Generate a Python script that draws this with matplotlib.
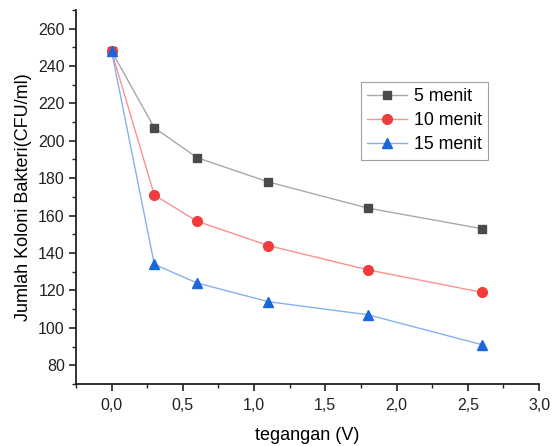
import numpy as np
import matplotlib
matplotlib.use("Agg")
import matplotlib.pyplot as plt
from matplotlib.ticker import MultipleLocator, FuncFormatter

# data
tegangan = [0.0, 0.3, 0.6, 1.1, 1.8, 2.6]
menit_5 = [248, 207, 191, 178, 164, 153]
menit_10 = [248, 171, 157, 144, 131, 119]
menit_15 = [248, 134, 124, 114, 107, 91]
labels = ["5 menit", "10 menit", "15 menit"]

plt.rcParams.update({'font.family': 'Liberation Sans', 'font.size': 11})
fig = plt.figure(figsize=(5.54, 4.46), dpi=100)
ax = fig.add_axes([0.137, 0.139, 0.836, 0.839])

ax.plot(tegangan, menit_5, color='#a8a8a8', lw=1.0, marker='s', ms=6,
        mfc='#4a4a4a', mec='#4a4a4a', label=labels[0])
ax.plot(tegangan, menit_10, color='#ff9090', lw=1.0, marker='o', ms=7,
        mfc='#f23b3b', mec='#f23b3b', label=labels[1])
ax.plot(tegangan, menit_15, color='#86b0ee', lw=1.0, marker='^', ms=7,
        mfc='#1a66db', mec='#1a66db', label=labels[2])

ax.set_xlim(-0.25, 3.0)
ax.set_ylim(70, 270)
ax.xaxis.set_major_locator(MultipleLocator(0.5))
ax.xaxis.set_minor_locator(MultipleLocator(0.25))
ax.yaxis.set_major_locator(MultipleLocator(20))
ax.yaxis.set_minor_locator(MultipleLocator(10))
ax.xaxis.set_major_formatter(FuncFormatter(lambda v, p: f"{v:.1f}".replace('.', ',')))

for s in ['top', 'right']:
    ax.spines[s].set_visible(False)
for s in ['left', 'bottom']:
    ax.spines[s].set_linewidth(1.3)
    ax.spines[s].set_color('#222222')
ax.tick_params(which='major', direction='out', length=5, width=1.2,
               labelsize=11.5, colors='#222222')
ax.tick_params(which='minor', direction='out', length=3, width=1.0, colors='#222222')
ax.tick_params(axis='x', pad=5)
ax.tick_params(axis='y', pad=3)

ax.set_xlabel("tegangan (V)", fontsize=13, labelpad=10)
ax.set_ylabel("Jumlah Koloni Bakteri(CFU/ml)", fontsize=13, labelpad=4)

leg = ax.legend(loc='upper left', bbox_to_anchor=(0.616, 0.807), fontsize=12.8,
                frameon=True, fancybox=False, edgecolor='#888888',
                borderpad=0.35, labelspacing=0.4, handlelength=2.2,
                handletextpad=0.4, borderaxespad=0)
leg.get_frame().set_linewidth(0.8)

plt.savefig("out.png", dpi=100)
